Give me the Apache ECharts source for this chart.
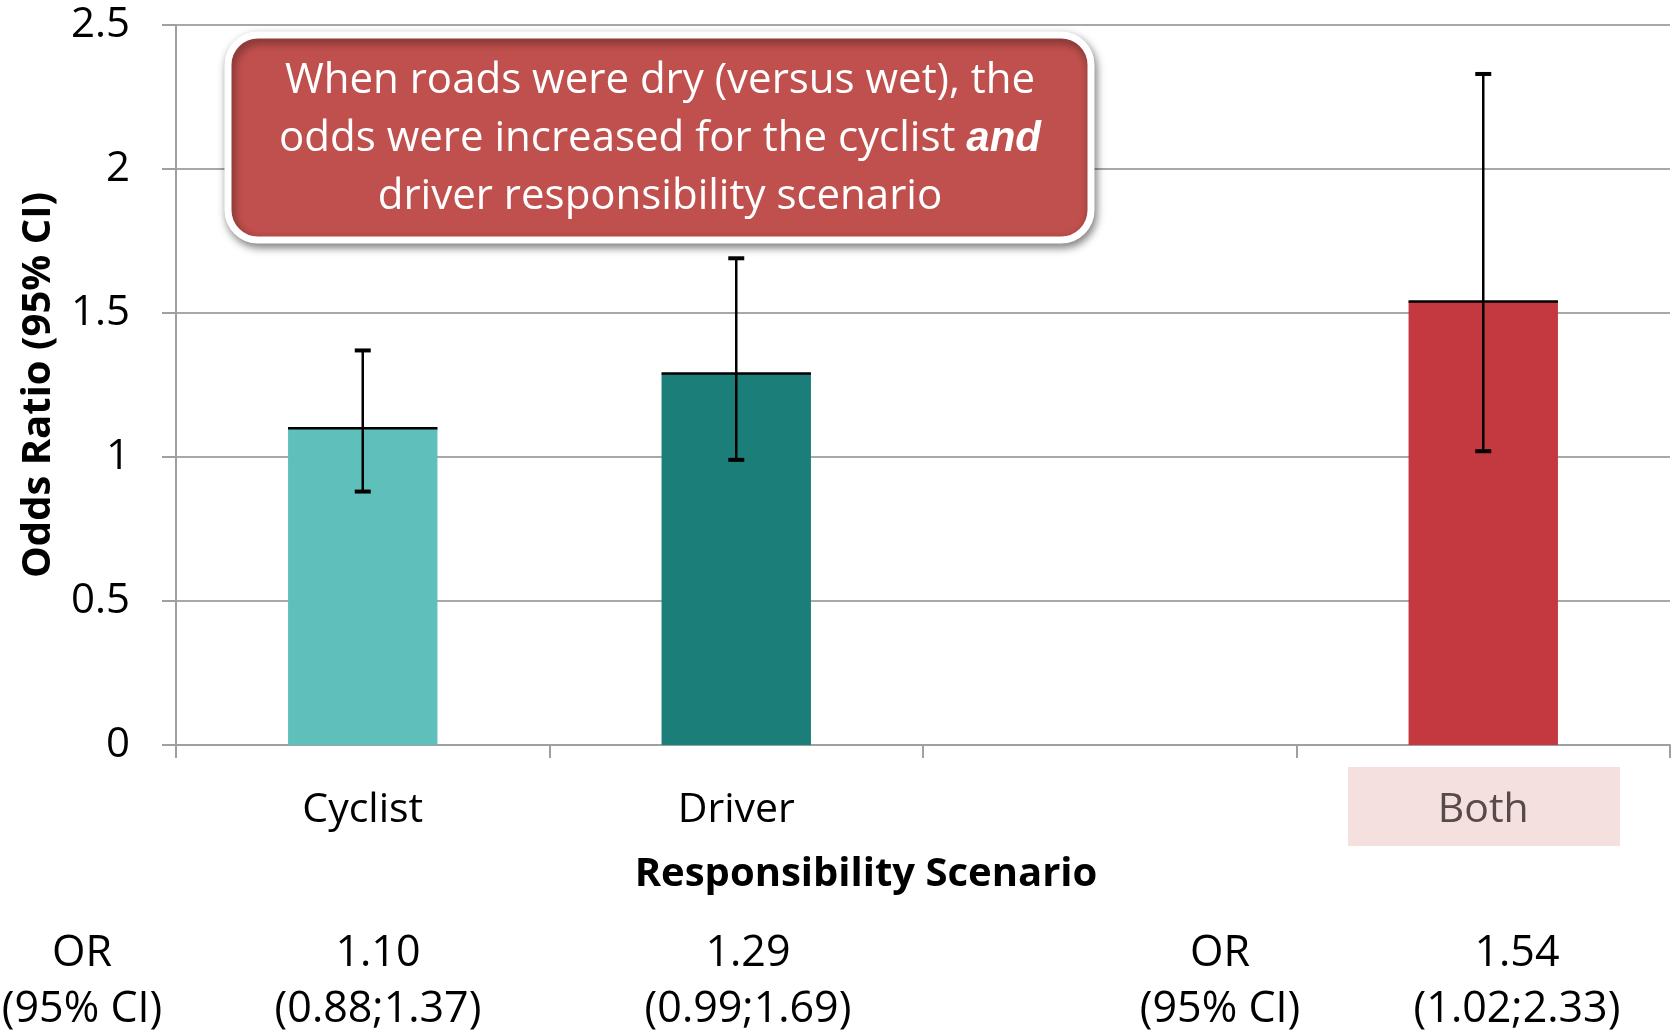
<!DOCTYPE html>
<html>
<head>
<meta charset="utf-8">
<script src="https://cdn.jsdelivr.net/npm/echarts@6/dist/echarts.min.js"></script>
<style>
  html, body { margin: 0; padding: 0; background: #fff; }
  #chart { width: 1675px; height: 1034px; }
</style>
</head>
<body>
<div id="chart"></div>
<script>
// data
const categories = ['Cyclist', 'Driver', '', 'Both'];
const oddsRatio = [1.10, 1.29, null, 1.54];
const ciLow = [0.88, 0.99, null, 1.02];
const ciHigh = [1.37, 1.69, null, 2.33];
const barColors = ['#5FBFBB', '#1B7E78', null, '#C3393F'];
const tableHeads = ['OR', '(95% CI)'];
const noteLines = [
  'When roads were dry (versus wet), the',
  'odds were increased for the cyclist {bi|and}',
  'driver responsibility scenario'
];

const FONT = '"Open Sans", "Noto Sans", sans-serif';
const chart = echarts.init(document.getElementById('chart'));

const barData = oddsRatio.map((v, i) =>
  v == null ? '-' : { value: v, itemStyle: { color: barColors[i] } }
);
const errData = [];
oddsRatio.forEach((v, i) => {
  if (v != null) errData.push([i, v, ciLow[i], ciHigh[i]]);
});

// table under the chart (OR + CI)
const tableX = [378, 748, null, 1517];
const tableFont = '43px ' + FONT;
const tableTexts = [];
[82, 1220].forEach(x => {
  tableTexts.push({ type: 'text', x: x, y: 954, style: { text: tableHeads[0], font: tableFont, fill: '#000', align: 'center', verticalAlign: 'middle' } });
  tableTexts.push({ type: 'text', x: x, y: 1010, style: { text: tableHeads[1], font: tableFont, fill: '#000', align: 'center', verticalAlign: 'middle' } });
});
oddsRatio.forEach((v, i) => {
  if (v == null) return;
  tableTexts.push({ type: 'text', x: tableX[i], y: 954, style: { text: v.toFixed(2), font: tableFont, fill: '#000', align: 'center', verticalAlign: 'middle' } });
  tableTexts.push({ type: 'text', x: tableX[i], y: 1010, style: { text: '(' + ciLow[i].toFixed(2) + ';' + ciHigh[i].toFixed(2) + ')', font: tableFont, fill: '#000', align: 'center', verticalAlign: 'middle' } });
});

chart.setOption({
  animation: false,
  textStyle: { fontFamily: FONT },
  grid: { left: 176, right: 5, top: 25, bottom: 289, containLabel: false, outerBoundsMode: 'none' },
  xAxis: {
    type: 'category',
    data: categories,
    axisLine: { lineStyle: { color: '#A0A0A0', width: 2 } },
    axisTick: { show: true, length: 13, lineStyle: { color: '#A0A0A0', width: 2 } },
    axisLabel: {
      margin: 45,
      fontSize: 41,
      color: '#000',
      formatter: (name) => name === 'Both' ? '{both|Both}' : name,
      rich: {
        both: { fontSize: 41, color: '#584A4A' }
      }
    }
  },
  yAxis: {
    type: 'value',
    min: 0,
    max: 2.5,
    interval: 0.5,
    name: 'Odds Ratio (95% CI)',
    nameLocation: 'middle',
    nameRotate: 90,
    nameGap: 117,
    nameTextStyle: { fontSize: 40, fontWeight: 'bold', color: '#000' },
    axisLine: { show: true, lineStyle: { color: '#A0A0A0', width: 2 } },
    axisTick: { show: true, length: 14, lineStyle: { color: '#A0A0A0', width: 2 } },
    axisLabel: { margin: 46, fontSize: 42, color: '#000' },
    splitLine: { lineStyle: { color: '#A8A8A8', width: 2 } }
  },
  series: [
    {
      type: 'bar',
      data: barData,
      barWidth: '40%'
    },
    {
      type: 'custom',
      z: 5,
      data: errData,
      encode: { x: 0, y: [1, 2, 3] },
      renderItem: (params, api) => {
        const i = api.value(0);
        const mid = api.coord([i, api.value(1)]);
        const lo = api.coord([i, api.value(2)]);
        const hi = api.coord([i, api.value(3)]);
        const bw = api.size([1, 0])[0] * 0.4;
        const cap = 8;
        const st = { stroke: '#000', lineWidth: 2.5 };
        return {
          type: 'group',
          children: [
            { type: 'line', shape: { x1: mid[0] - bw / 2, y1: mid[1], x2: mid[0] + bw / 2, y2: mid[1] }, style: st },
            { type: 'line', shape: { x1: mid[0], y1: hi[1], x2: mid[0], y2: lo[1] }, style: st },
            { type: 'line', shape: { x1: mid[0] - cap, y1: hi[1], x2: mid[0] + cap, y2: hi[1] }, style: { stroke: '#000', lineWidth: 4 } },
            { type: 'line', shape: { x1: mid[0] - cap, y1: lo[1], x2: mid[0] + cap, y2: lo[1] }, style: { stroke: '#000', lineWidth: 4 } }
          ]
        };
      }
    }
  ],
  graphic: [
    // pink highlight behind the "Both" label
    {
      type: 'rect',
      z: -1,
      shape: { x: 1348, y: 767, width: 272, height: 79 },
      style: { fill: '#F3E0DF' }
    },
    {
      type: 'text',
      x: 866,
      y: 875,
      style: { text: 'Responsibility Scenario', font: 'bold 40px ' + FONT, fill: '#000', align: 'center', verticalAlign: 'middle' }
    },
    {
      type: 'rect',
      z: 10,
      shape: { x: 228, y: 35, width: 863, height: 205, r: 30 },
      style: {
        fill: '#C0504D',
        stroke: '#fff',
        lineWidth: 7,
        shadowBlur: 10,
        shadowOffsetX: 2,
        shadowOffsetY: 4,
        shadowColor: 'rgba(0,0,0,0.45)'
      }
    },
    {
      type: 'text',
      z: 11,
      x: 660,
      y: 139,
      style: {
        text: noteLines.join('\n'),
        font: '42px ' + FONT,
        fill: '#fff',
        align: 'center',
        verticalAlign: 'middle',
        lineHeight: 58,
        rich: {
          bi: { fontSize: 42, fontWeight: 'bold', fontStyle: 'italic', fill: '#fff', lineHeight: 58 }
        }
      }
    },
    ...tableTexts
  ]
});
</script>
</body>
</html>
